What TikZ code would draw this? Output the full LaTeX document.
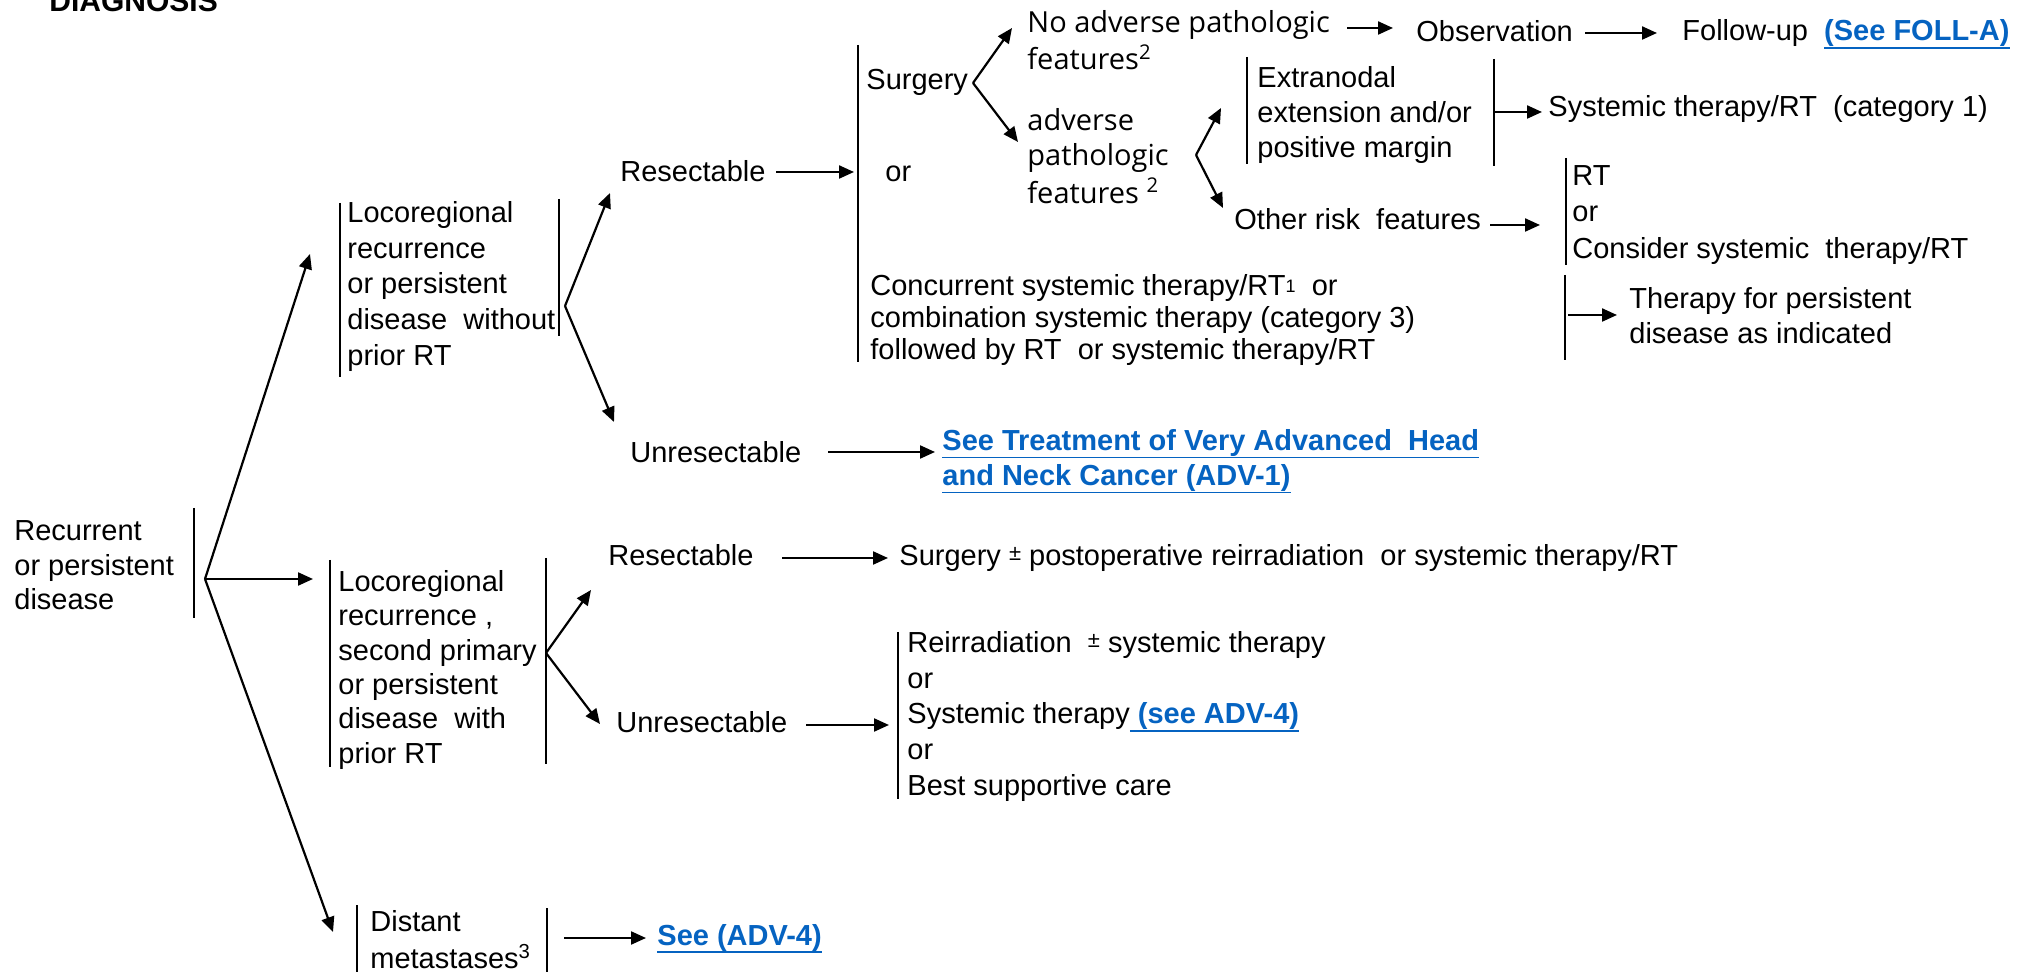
\documentclass[tikz,border=0pt]{standalone}
\usepackage{fontspec}
\setmainfont{Liberation Sans}
\newfontfamily\osans{Open Sans}
\usetikzlibrary{arrows.meta}
\definecolor{linkblue}{RGB}{5,99,193}
% 14.5pt text with a chosen baseline skip
\newcommand\fsz[1]{\fontsize{14.5}{#1}\selectfont}
% bold blue underlined cross-reference
\newcommand\lnk[1]{{\color{linkblue}\bfseries\setbox0\hbox{#1}\rlap{\rule[-4pt]{\wd0}{0.9pt}}\box0}}
\newcommand\supone{{\fontsize{9}{9}\selectfont\raisebox{1.5pt}{1}}}
\newcommand\pmsmall{{\fontsize{11}{11}\selectfont\raisebox{2.5pt}{±}}}
\begin{document}
\begin{tikzpicture}[x=0.5pt,y=-0.5pt,
  txt/.style={inner sep=0pt, anchor=base west, font=\fsz{17.5}},
  blk/.style={inner sep=0pt, anchor=north west, align=left, font=\fsz{#1}},
  blko/.style={inner sep=0pt, anchor=north west, align=left, font=\osans\fsz{#1}},
  arr/.style={line width=1.1pt, -{Triangle[length=7.5pt,width=6.5pt]}},
  bar/.style={line width=1pt},
  thinbar/.style={line width=0.8pt},
]
\useasboundingbox (0,0) rectangle (2024,972);
\clip (0,0) rectangle (2024,972);

% heading
\node[inner sep=0pt, anchor=base west, font=\fontsize{15}{18}\selectfont\bfseries] (diag) at (49,12) {DIAGNOSIS};

% root
\node[blk=17.25] (rec) at (14,516) {\strut Recurrent\\\strut or persistent\\\strut disease};
\draw[bar] (194,508) -- (194,618);
\coordinate (v0) at (205,579);
\coordinate (t1) at (310,254);
\coordinate (t2) at (313,579);
\coordinate (t3) at (333,932);
\draw[arr] (v0) -- (t1);
\draw[arr] (v0) -- (t2);
\draw[arr] (v0) -- (t3);

% locoregional, no prior RT
\draw[bar] (340,203) -- (340,377);
\node[blk=17.875] (lr1) at (347,197) {\strut Locoregional\\\strut recurrence\\\strut or persistent\\\strut disease~ without\\\strut prior RT};
\draw[bar] (559,199) -- (559,336);
\coordinate (v1) at (565,306);
\coordinate (t4) at (610,193);
\coordinate (t5) at (614,422);
\draw[arr] (v1) -- (t4);
\draw[arr] (v1) -- (t5);

\node[txt] (res1) at (620,182) {Resectable};
\coordinate (a1s) at (776,172);
\coordinate (a1e) at (854,172);
\draw[arr] (a1s) -- (a1e);
\draw[bar] (858,45) -- (858,362);
\node[txt] (surg) at (866,90) {Surgery};
\node[txt] (or1) at (885,182) {or};
\coordinate (v2) at (973,83);
\coordinate (t6) at (1012,28);
\coordinate (t7) at (1018,142);
\draw[arr] (v2) -- (t6);
\draw[arr] (v2) -- (t7);

\node[blko=17] (noadv) at (1027,8.2) {\strut No adverse pathologic\\\strut features\textsuperscript{2}};
\coordinate (a2s) at (1347,28);
\coordinate (a2e) at (1393,28);
\draw[arr] (a2s) -- (a2e);
\node[txt] (obs) at (1416,42) {Observation};
\coordinate (a3s) at (1585,33);
\coordinate (a3e) at (1657,33);
\draw[arr] (a3s) -- (a3e);
\node[txt] (fu) at (1682,41) {Follow-up~ \lnk{(See FOLL-A)}};

\node[blko=17.5] (adv) at (1027,105.5) {\strut adverse\\\strut pathologic\\\strut features \textsuperscript{2}};
\coordinate (v3) at (1196,155);
\coordinate (t8) at (1221,108);
\coordinate (t9) at (1223,208);
\draw[arr] (v3) -- (t8);
\draw[arr] (v3) -- (t9);

\draw[thinbar] (1247,57) -- (1247,164);
\node[blk=17.5] (extra) at (1257,62.5) {\strut Extranodal\\\strut extension and/or\\\strut positive margin};
\draw[thinbar] (1494,59) -- (1494,166);
\coordinate (a4s) at (1494,112);
\coordinate (a4e) at (1542,112);
\draw[arr] (a4s) -- (a4e);
\node[txt] (st1) at (1548,117) {Systemic therapy/RT~ (category 1)};

\node[txt] (other) at (1234,230) {Other risk~ features};
\coordinate (a5s) at (1490,225);
\coordinate (a5e) at (1540,225);
\draw[arr] (a5s) -- (a5e);
\draw[thinbar] (1566,158) -- (1566,265);
\node[blk=18.25] (rtopt) at (1572,159.45) {\strut RT\\\strut or\\\strut Consider systemic~ therapy/RT};

\node[blk=15] (conc) at (870,274) {\strut Concurrent systemic therapy/RT\supone~ or\\\strut combination systemic therapy (category 3)\\\strut followed by RT~ or systemic therapy/RT};
\draw[thinbar] (1565,275) -- (1565,360);
\coordinate (a6s) at (1568,315);
\coordinate (a6e) at (1617,315);
\draw[arr] (a6s) -- (a6e);
\node[blk=17.5] (pers) at (1629,283.5) {\strut Therapy for persistent\\\strut disease as indicated};

\node[txt] (unres1) at (630,463) {Unresectable};
\coordinate (a7s) at (828,452);
\coordinate (a7e) at (935,452);
\draw[arr] (a7s) -- (a7e);
\node[blk=17.5] (adv1) at (942,425.5) {\strut\lnk{See Treatment of Very Advanced~ Head}\\\strut\lnk{and Neck Cancer (ADV-1)}};

% locoregional, prior RT
\draw[bar] (330,560) -- (330,767);
\node[blk=17.2] (lr2) at (338,566.9) {\strut Locoregional\\\strut recurrence ,\\\strut second primary\\\strut or persistent\\\strut disease~ with\\\strut prior RT};
\draw[bar] (546,558) -- (546,764);
\coordinate (v4) at (546,653);
\coordinate (t10) at (591,590);
\coordinate (t11) at (600,724);
\draw[arr] (v4) -- (t10);
\draw[arr] (v4) -- (t11);

\node[txt] (res2) at (608,566) {Resectable};
\coordinate (a8s) at (782,558);
\coordinate (a8e) at (888,558);
\draw[arr] (a8s) -- (a8e);
\node[txt] (surg2) at (899,566) {Surgery \pmsmall\ postoperative reirradiation~ or systemic therapy/RT};

\node[txt] (unres2) at (616,732) {Unresectable};
\coordinate (a9s) at (806,725);
\coordinate (a9e) at (889,725);
\draw[arr] (a9s) -- (a9e);
\draw[bar] (898,632) -- (898,799);
\node[blk=17.875] (opts) at (907,627) {\strut Reirradiation~ \pmsmall\ systemic therapy\\\strut or\\\strut Systemic therapy\lnk{\ (see ADV-4)}\\\strut or\\\strut Best supportive care};

% distant metastases
\draw[bar] (357,905) -- (357,972);
\node[blk=17.5] (dist) at (370,906.5) {\strut Distant\\\strut metastases\textsuperscript{3}};
\draw[bar] (547,908) -- (547,972);
\coordinate (a10s) at (564,938);
\coordinate (a10e) at (646,938);
\draw[arr] (a10s) -- (a10e);
\node[txt] (adv4) at (657,945) {\lnk{See (ADV-4)}};
\end{tikzpicture}
\end{document}
